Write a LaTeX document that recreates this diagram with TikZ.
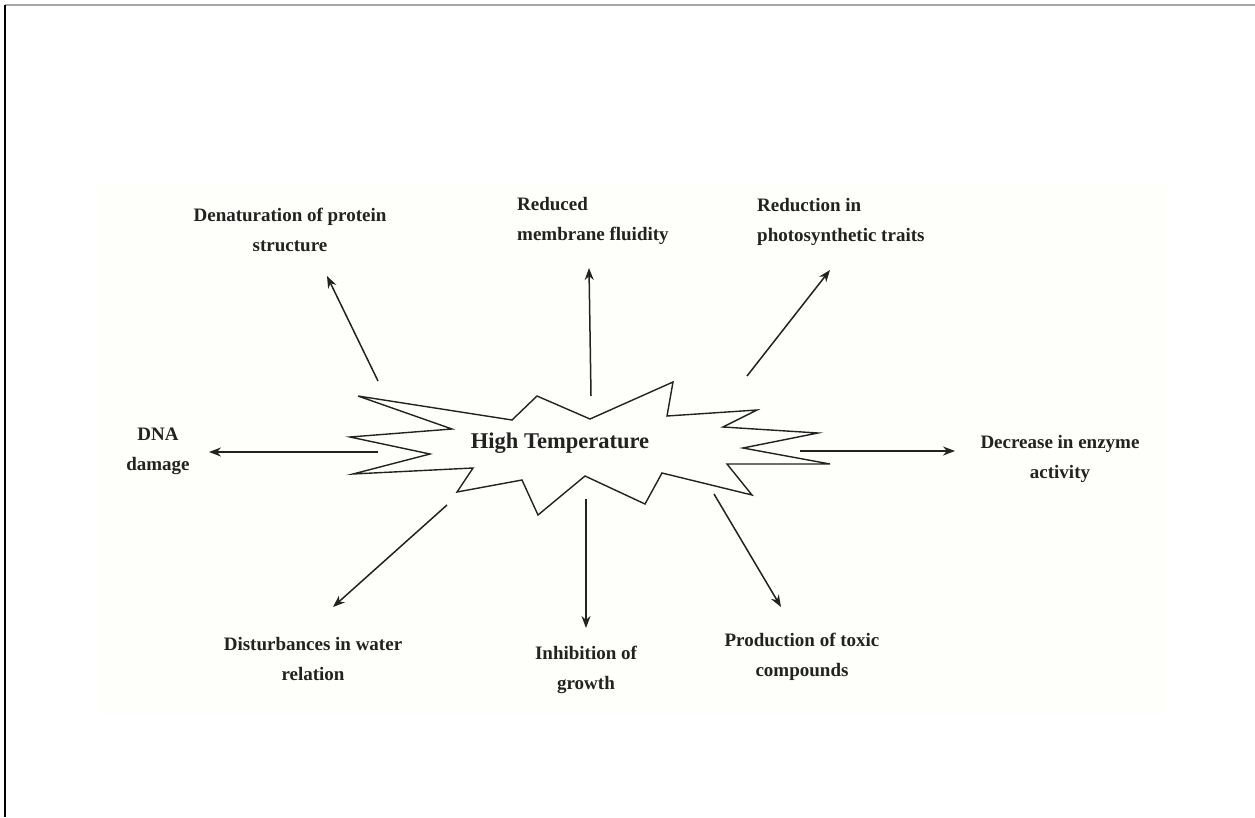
\documentclass[tikz,border=0pt]{standalone}
\usepackage{fontspec}
\setmainfont{Liberation Serif}
\usetikzlibrary{arrows.meta}
\definecolor{paper}{RGB}{254,254,250}
\definecolor{ink}{RGB}{34,34,34}
\begin{document}
\begin{tikzpicture}[x=1pt,y=-1pt,
    effect/.style={font=\fontsize{19}{30}\selectfont\bfseries, text=ink, align=center, inner sep=0pt},
    cause/.style={font=\fontsize{22.5}{27}\selectfont\bfseries, text=ink, inner sep=0pt},
    link/.style={draw=ink, line width=1.5pt, -{Stealth[length=12pt,width=9pt]}}]
    \useasboundingbox (0,0) rectangle (1255,817);
    \fill[paper] (98,185) rectangle (1166,714);
    \draw[gray!70, line width=1.5pt] (5,5) -- (1255,5);
    \draw[line width=2pt] (5,5) -- (5,817);
    % the burst
    \draw[ink, line width=1.4pt, line join=miter]
        (358,396) -- (512,420) -- (537,396) -- (590,419) -- (673,382) -- (667,416)
        -- (757,410) -- (723,427) -- (818,433) -- (743,448) -- (830,464) -- (727,464)
        -- (752,495) -- (662,473) -- (645,504) -- (585,476) -- (538,515) -- (522,480)
        -- (457,492) -- (473,468) -- (353,474) -- (430,454) -- (350,437) -- (452,429)
        -- cycle;
    \node[cause] (heat) at (560,443) {High Temperature};
    % effects
    \node[effect] (protein) at (290,230) {Denaturation of protein\\structure};
    \node[effect, align=left, anchor=west] (membrane) at (517,221) {Reduced\\membrane fluidity};
    \node[effect, align=left, anchor=west] (photo) at (757,222) {Reduction in\\photosynthetic traits};
    \node[effect] (dna) at (158,451) {DNA\\damage};
    \node[effect] (enzyme) at (1060,459) {Decrease in enzyme\\activity};
    \node[effect] (water) at (313,659) {Disturbances in water\\relation};
    \node[effect] (growth) at (586,670) {Inhibition of\\growth};
    \node[effect] (toxic) at (802,657) {Production of toxic\\compounds};
    % arrow ends
    \coordinate (p-s) at (378,381);  \coordinate (p-t) at (327,276);
    \coordinate (m-s) at (591,396);  \coordinate (m-t) at (589,268);
    \coordinate (ph-s) at (747,376); \coordinate (ph-t) at (830,270);
    \coordinate (d-s) at (378,452);  \coordinate (d-t) at (209,452);
    \coordinate (e-s) at (800,451);  \coordinate (e-t) at (955,451);
    \coordinate (w-s) at (447,505);  \coordinate (w-t) at (333,607);
    \coordinate (g-s) at (586,499);  \coordinate (g-t) at (586,628);
    \coordinate (t-s) at (714,494);  \coordinate (t-t) at (781,607);
    \foreach \Source/\Target in {p-s/p-t, m-s/m-t, ph-s/ph-t, d-s/d-t,
                                 e-s/e-t, w-s/w-t, g-s/g-t, t-s/t-t}
        \draw[link] (\Source) -- (\Target);
\end{tikzpicture}
\end{document}
